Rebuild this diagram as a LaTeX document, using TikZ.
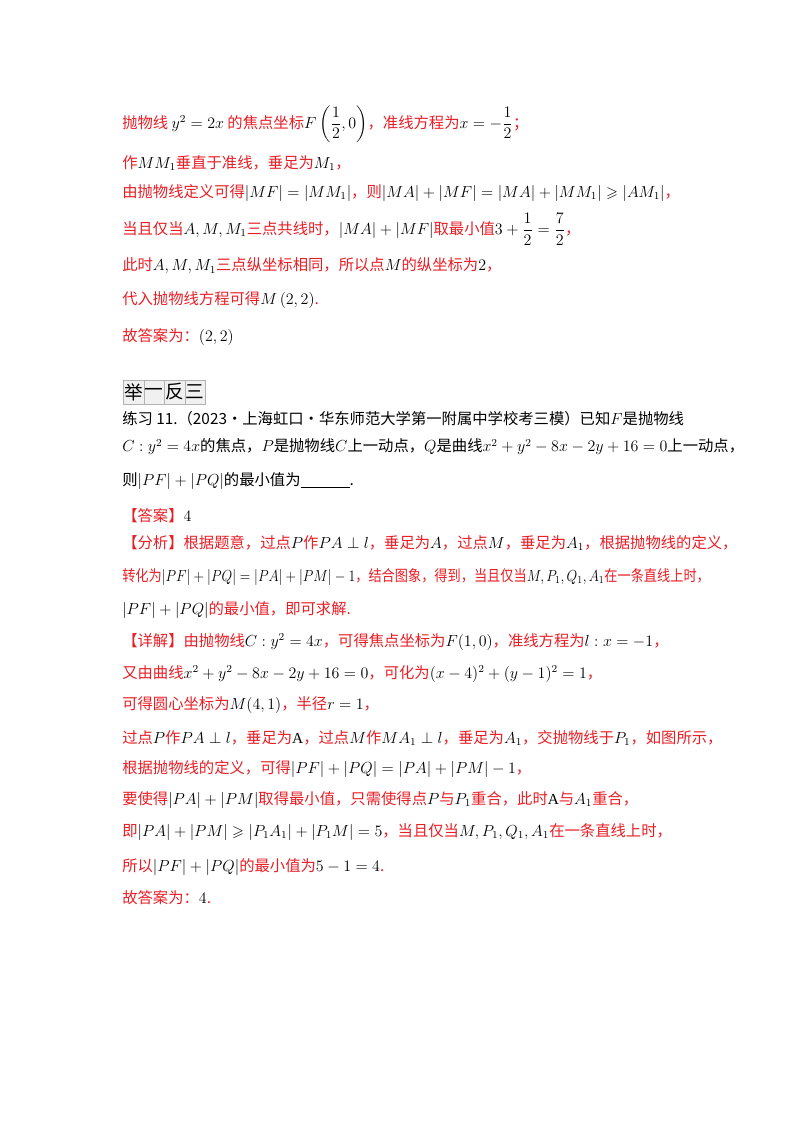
\documentclass[tikz,border=0pt]{standalone}
\usepackage{amsmath,amssymb}
\usepackage{fontspec}
\setmainfont{Liberation Serif}
\newfontfamily\cjk{Noto Sans CJK SC}
\definecolor{myred}{RGB}{232,30,37}
\newcommand\mm[1]{\textcolor{black}{$#1$}}
\begin{document}
\begin{tikzpicture}[x=0.75pt,y=-0.75pt]
\useasboundingbox (0,0) rectangle (800,1132);
\tikzset{ln/.style={anchor=west,inner sep=0pt,font=\cjk\fontsize{11.5}{13}\selectfont,text=myred},
 bl/.style={ln,text=black}}
\node[ln] (l1) at (122,124) {抛物线 \mm{y^2=2x} 的焦点坐标\mm{F\left(\dfrac12,0\right)}，准线方程为\mm{x=-\dfrac12}；};
\node[ln] (l2) at (122,163) {作\mm{MM_1}垂直于准线，垂足为\mm{M_1}，};
\node[ln] (l3) at (122,193) {由抛物线定义可得\mm{\left|MF\right|=\left|MM_1\right|}，则\mm{\left|MA\right|+\left|MF\right|=\left|MA\right|+\left|MM_1\right|\geqslant\left|AM_1\right|}，};
\node[ln] (l4) at (122,229) {当且仅当\mm{A,M,M_1}三点共线时，\mm{|MA|+|MF|}取最小值\mm{3+\dfrac12=\dfrac72}，};
\node[ln] (l5) at (122,266) {此时\mm{A,M,M_1}三点纵坐标相同，所以点\mm{M}的纵坐标为\mm{2}，};
\node[ln] (l6) at (122,300) {代入抛物线方程可得\mm{M\left(2,2\right)}.};
\node[ln] (l7) at (122,337) {故答案为：\mm{\left(2,2\right)}};
\foreach \i/\c in {0/举,1/一,2/反,3/三}{
  \node[draw=gray!60,fill=gray!12,minimum width=15.4pt,minimum height=18pt,inner sep=0pt,anchor=west,font=\cjk\fontsize{14}{14}\selectfont] (b\i) at (123+\i*20.5,392) {\c};}
\node[bl] (e1) at (122,419) {练习 11.（2023·上海虹口·华东师范大学第一附属中学校考三模）已知\mm{F}是抛物线};
\node[bl] (e2) at (122,447) {\mm{C:y^2=4x}的焦点，\mm{P}是抛物线\mm{C}上一动点，\mm{Q}是曲线\mm{x^2+y^2-8x-2y+16=0}上一动点，};
\node[bl] (e3) at (122,481) {则\mm{\left|PF\right|+\left|PQ\right|}的最小值为\underline{\hspace{3.2em}}.};
\node[ln] (a1) at (122,516) {【答案】\mm{4}};
\node[ln] (f1) at (122,543) {【分析】根据题意，过点\mm{P}作\mm{PA\perp l}，垂足为\mm{A}，过点\mm{M}，垂足为\mm{A_1}，根据抛物线的定义，};
\node[ln] (f2) at (122,577) {\scalebox{0.86}[1]{转化为\mm{\left|PF\right|+\left|PQ\right|=\left|PA\right|+\left|PM\right|-1}，结合图象，得到，当且仅当\mm{M,P_1,Q_1,A_1}在一条直线上时，}};
\node[ln] (f3) at (122,610) {\mm{\left|PF\right|+\left|PQ\right|}的最小值，即可求解.};
\node[ln] (d1) at (122,642) {【详解】由抛物线\mm{C:y^2=4x}，可得焦点坐标为\mm{F(1,0)}，准线方程为\mm{l:x=-1}，};
\node[ln] (d2) at (122,674) {又由曲线\mm{x^2+y^2-8x-2y+16=0}，可化为\mm{(x-4)^2+(y-1)^2=1}，};
\node[ln] (d3) at (122,705) {可得圆心坐标为\mm{M(4,1)}，半径\mm{r=1}，};
\node[ln] (d4) at (122,738) {过点\mm{P}作\mm{PA\perp l}，垂足为\mm{\mathrm{A}}，过点\mm{M}作\mm{MA_1\perp l}，垂足为\mm{A_1}，交抛物线于\mm{P_1}，如图所示，};
\node[ln] (d5) at (122,769) {根据抛物线的定义，可得\mm{\left|PF\right|+\left|PQ\right|=\left|PA\right|+\left|PM\right|-1}，};
\node[ln] (d6) at (122,800) {要使得\mm{\left|PA\right|+\left|PM\right|}取得最小值，只需使得点\mm{P}与\mm{P_1}重合，此时\mm{\mathrm{A}}与\mm{A_1}重合，};
\node[ln] (d7) at (122,832) {即\mm{\left|PA\right|+\left|PM\right|\geqslant\left|P_1A_1\right|+\left|P_1M\right|=5}，当且仅当\mm{M,P_1,Q_1,A_1}在一条直线上时，};
\node[ln] (d8) at (122,867) {所以\mm{\left|PF\right|+\left|PQ\right|}的最小值为\mm{5-1=4}.};
\node[ln] (d9) at (122,898) {故答案为：\mm{4}.};
\end{tikzpicture}
\end{document}
